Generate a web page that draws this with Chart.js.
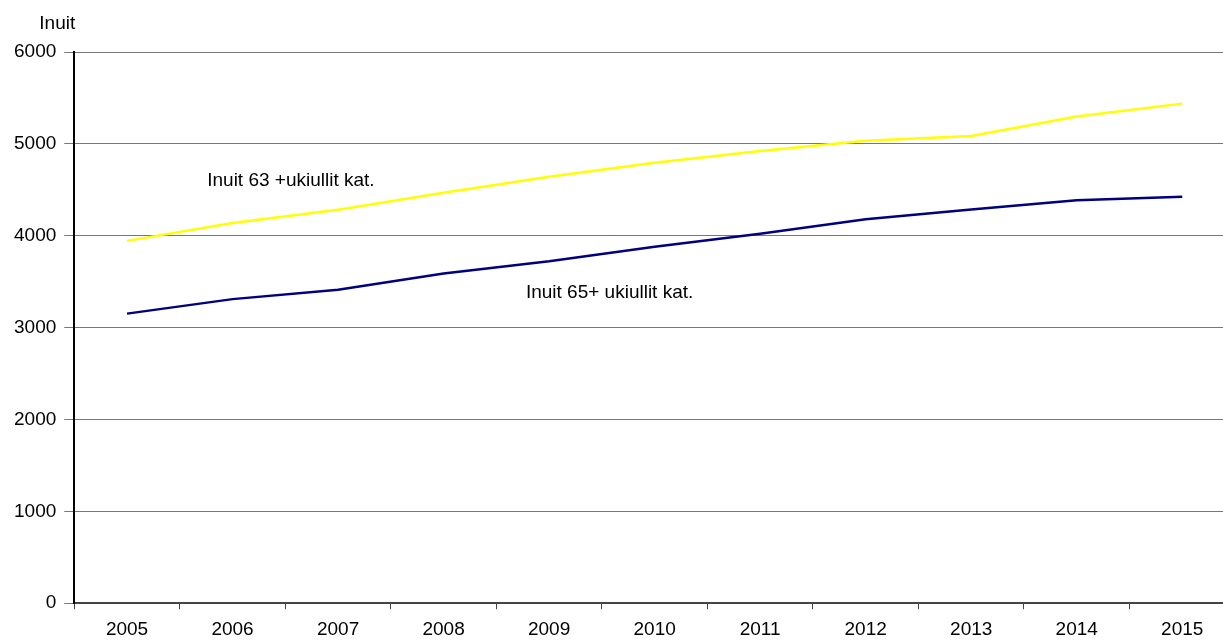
<!DOCTYPE html>
<html>
<head>
<meta charset="utf-8">
<script src="https://cdn.jsdelivr.net/npm/chart.js@4"></script>
<style>
  html, body { margin: 0; padding: 0; background: #fff; overflow: hidden; }
  #wrap { width: 1240px; height: 641px; }
</style>
</head>
<body>
<div id="wrap"><canvas id="inuitChart"></canvas></div>
<script>
var years = ["2005", "2006", "2007", "2008", "2009", "2010", "2011", "2012", "2013", "2014", "2015"];
var inuit63 = [3944, 4138, 4282, 4468, 4642, 4795, 4922, 5035, 5085, 5297, 5438];
var inuit65 = [3152, 3310, 3413, 3590, 3722, 3880, 4021, 4180, 4286, 4387, 4424];
var yTicks = [0, 1000, 2000, 3000, 4000, 5000, 6000];

var FONT = "'Liberation Sans', Arial, sans-serif";

// labels written next to the lines, and the "Inuit" unit above the y axis
var textPlugin = {
    id: 'lineText',
    afterDatasetsDraw: function (chart, args, opts) {
        var ctx = chart.ctx;
        var xs = chart.scales.x, ys = chart.scales.y;
        ctx.save();
        ctx.fillStyle = '#000';
        ctx.font = '19px ' + FONT;
        ctx.textBaseline = 'middle';
        ctx.textAlign = 'left';
        opts.items.forEach(function (it) {
            ctx.fillText(chart.data.datasets[it.dataset].label,
                xs.getPixelForValue(it.at), ys.getPixelForValue(it.value));
        });
        ctx.textAlign = 'center';
        ctx.fillText('Inuit', chart.chartArea.left - 17, chart.chartArea.top - 28);
        ctx.restore();
    }
};

var ctx = document.getElementById("inuitChart").getContext('2d');
var inuitChart = new Chart(ctx, {
    type: 'line',
    data: {
        labels: years,
        datasets: [
            {
                label: "Inuit 63 +ukiullit kat.",
                borderColor: "#FFFF00",
                backgroundColor: "#FFFF00",
                borderWidth: 2.5,
                pointRadius: 0,
                tension: 0,
                data: inuit63
            },
            {
                label: "Inuit 65+ ukiullit kat.",
                borderColor: "#000080",
                backgroundColor: "#000080",
                borderWidth: 2.5,
                pointRadius: 0,
                tension: 0,
                data: inuit65
            }
        ]
    },
    options: {
        responsive: true,
        maintainAspectRatio: false,
        animation: false,
        layout: { padding: { top: 52, left: 6, right: 5, bottom: -9 } },
        plugins: {
            legend: { display: false },
            tooltip: { enabled: false },
            lineText: {
                items: [
                    { dataset: 0, at: 0.76, value: 4600 },
                    { dataset: 1, at: 3.78, value: 3380 }
                ]
            }
        },
        scales: {
            x: {
                offset: true,
                border: { color: '#444', width: 2 },
                grid: { offset: true, drawOnChartArea: false, drawTicks: true, tickLength: 6, color: '#444' },
                ticks: { color: '#000', font: { size: 19, family: FONT }, padding: 9, maxRotation: 0 }
            },
            y: {
                min: 0,
                max: 6000,
                afterBuildTicks: function (axis) {
                    axis.ticks = yTicks.map(function (v) { return { value: v }; });
                },
                border: { color: '#000', width: 2 },
                grid: { color: '#777', lineWidth: 1, tickLength: 10 },
                ticks: {
                    color: '#000', font: { size: 19, family: FONT }, padding: 8,
                    callback: function (v) { return String(v); }
                }
            }
        }
    },
    plugins: [textPlugin]
});
</script>
</body>
</html>
